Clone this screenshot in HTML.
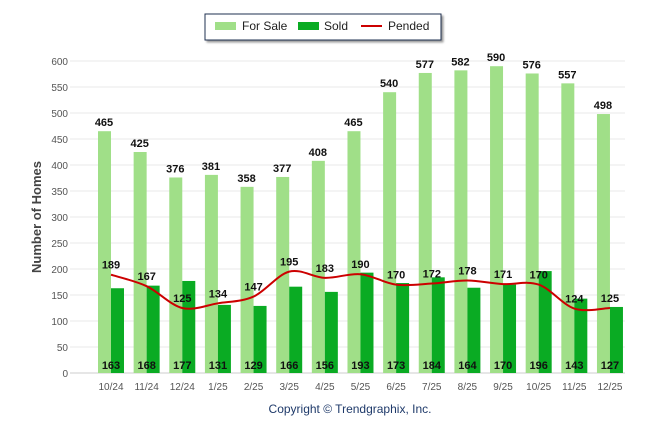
<!DOCTYPE html>
<html><head><meta charset="utf-8"><style>
body{margin:0;background:#fff;width:646px;height:434px;overflow:hidden;font-family:"Liberation Sans",Arial,sans-serif}
</style></head><body>
<svg width="646" height="434" id="c">
<g>
<rect x="205" y="14" width="236" height="26" fill="#fff" stroke="#1f3050" stroke-width="1" style="filter:drop-shadow(2px 2px 1px #999)"/>
<rect x="215" y="22" width="21" height="8" fill="#a0df88"/>
<text x="242" y="30" font-size="12" fill="#222">For Sale</text>
<rect x="298" y="22" width="21" height="8" fill="#0aab23"/>
<text x="324" y="30" font-size="12" fill="#222">Sold</text>
<rect x="361" y="25" width="21" height="2" fill="#cc0000"/>
<text x="388" y="30" font-size="12" fill="#222">Pended</text>
</g>
<text transform="translate(41,217) rotate(-90)" text-anchor="middle" font-size="13" font-weight="bold" fill="#444">Number of Homes</text>
<text x="350" y="413" text-anchor="middle" font-size="12" fill="#1f3a6a">Copyright © Trendgraphix, Inc.</text>
<g id="grid"></g><g id="bars"></g><g id="line"></g><g id="labels"></g>
</svg>
<script>
const categories=["10/24","11/24","12/24","1/25","2/25","3/25","4/25","5/25","6/25","7/25","8/25","9/25","10/25","11/25","12/25"];
const forSale=[465,425,376,381,358,377,408,465,540,577,582,590,576,557,498];
const sold=[163,168,177,131,129,166,156,193,173,184,164,170,196,143,127];
const pended=[189,167,125,134,147,195,183,190,170,172,178,171,170,124,125];
const yTicks=[0,50,100,150,200,250,300,350,400,450,500,550,600];
const NS="http://www.w3.org/2000/svg";
const y=v=>373-v*312/600;
const x=i=>111+i*35.64;
function mk(t,a,p){const e=document.createElementNS(NS,t);for(const k in a)e.setAttribute(k,a[k]);document.getElementById(p).appendChild(e);return e;}
yTicks.forEach(t=>{
 const l=mk('line',{x1:70,x2:625,y1:y(t),y2:y(t),stroke:t===0?'#ccc':'#e8e8e8','stroke-width':1},'grid');
 
 
 const tx=mk('text',{x:68,y:y(t)+4,'text-anchor':'end','font-size':10,fill:'#555'},'grid');tx.textContent=t;
 
 
});
categories.forEach((c,i)=>{
 const tx=mk('text',{x:x(i),y:390,'text-anchor':'middle','font-size':10,fill:'#555'},'grid');tx.textContent=c;
 
 
 const b1=mk('rect',{x:x(i)-13,y:y(forSale[i]),width:13,height:y(0)-y(forSale[i]),fill:'#a0df88'},'bars');
 
 
 const b2=mk('rect',{x:x(i),y:y(sold[i]),width:13,height:y(0)-y(sold[i]),fill:'#0aab23'},'bars');
 
 
 const l1=mk('text',{x:x(i)-7,y:y(forSale[i])-5,'text-anchor':'middle','font-size':11,'font-weight':'bold',fill:'#111'},'labels');l1.textContent=forSale[i];
 
 
 const l2=mk('text',{x:x(i),y:369,'text-anchor':'middle','font-size':11,'font-weight':'bold',fill:'#111'},'labels');l2.textContent=sold[i];
 
 
 const l3=mk('text',{x:x(i),y:y(pended[i])-6,'text-anchor':'middle','font-size':11,'font-weight':'bold',fill:'#111'},'labels');l3.textContent=pended[i];
 
 
});
let d='';const P=pended.map((v,i)=>[x(i),y(v)]);
P.forEach((p,i)=>{
 if(i===0){d+='M'+p[0]+' '+p[1];return;}
 const p0=P[i-2]||P[i-1],p1=P[i-1],p3=P[i+1]||p;
 const c1=[p1[0]+(p[0]-p0[0])/6,p1[1]+(p[1]-p0[1])/6],c2=[p[0]-(p3[0]-p1[0])/6,p[1]-(p3[1]-p1[1])/6];
 d+=` C${c1} ${c2} ${p}`;
});
const pl=mk('path',{d:d,fill:'none',stroke:'#cc0000','stroke-width':2},'line');


</script>
</body></html>
